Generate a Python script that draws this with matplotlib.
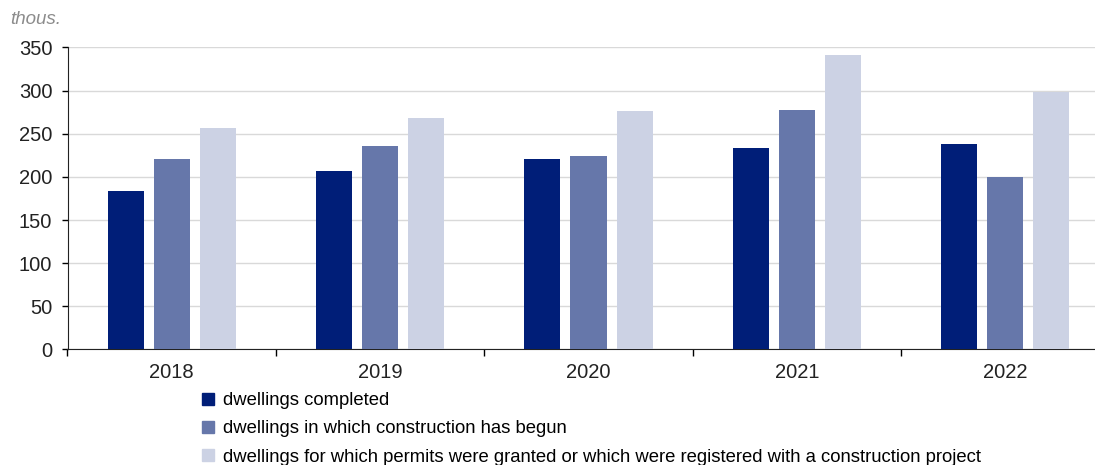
import matplotlib.pyplot as plt
import numpy as np
from matplotlib.lines import Line2D

plt.rcParams['font.family'] = ['Liberation Sans', 'DejaVu Sans']

years = ['2018', '2019', '2020', '2021', '2022']
completed = [184, 207, 221, 234, 238]
begun = [221, 236, 224, 277, 200]
permits = [257, 268, 276, 341, 298]
labels = ['dwellings completed',
          'dwellings in which construction has begun',
          'dwellings for which permits were granted or which were registered with a construction project']
colors = ['#001E78', '#6677AA', '#CCD2E4']

fig = plt.figure(figsize=(10.95, 4.65), dpi=100)
ax = fig.add_axes([67.5/1095, 1 - 349.4/465, 1 - 67.5/1095, (349.4 - 47.5)/465])

x = np.arange(len(years))
w = 0.173
pitch = 0.221
for i, (vals, c) in enumerate(zip([completed, begun, permits], colors)):
    ax.bar(x + (i - 1) * pitch, vals, width=w, color=c, zorder=3)

ax.set_yticks(range(0, 351, 50))
ax.set_xticks(x)
ax.set_xticklabels(years)
ax.set_xticks(np.arange(-0.5, 3.6, 1), minor=True)
ax.set_ylim(0, 350)
ax.set_xlim(-0.5, -0.5 + 1027.5/208.4)
ax.tick_params(axis='x', which='major', length=0, pad=9.5, labelsize=14.5, colors='#222222')
ax.tick_params(axis='x', which='minor', length=5, width=1, direction='out')
ax.tick_params(axis='y', length=4.5, width=1, direction='out', pad=6.5,
               labelsize=14.5, labelcolor='#222222')
ax.grid(axis='y', color='#D9D9D9', linewidth=1, zorder=0)
for s in ['top', 'right']:
    ax.spines[s].set_visible(False)
for s in ['left', 'bottom']:
    ax.spines[s].set_color('#222222')

fig.text(10/1095, 1 - 20/465, 'thous.', fontsize=13.5, style='italic', color='#8C8C8C', va='center')

handles = [Line2D([], [], marker='s', linestyle='none', markersize=9,
                  markerfacecolor=c, markeredgecolor=c) for c in colors]
fig.legend(handles, labels, loc='upper left', bbox_to_anchor=(201/1095, 1 - 392/465),
           frameon=False, fontsize=13.3, handlelength=0.75, handletextpad=0.45,
           labelspacing=0.62, borderpad=0, borderaxespad=0)

fig.savefig('out.png', dpi=100)
